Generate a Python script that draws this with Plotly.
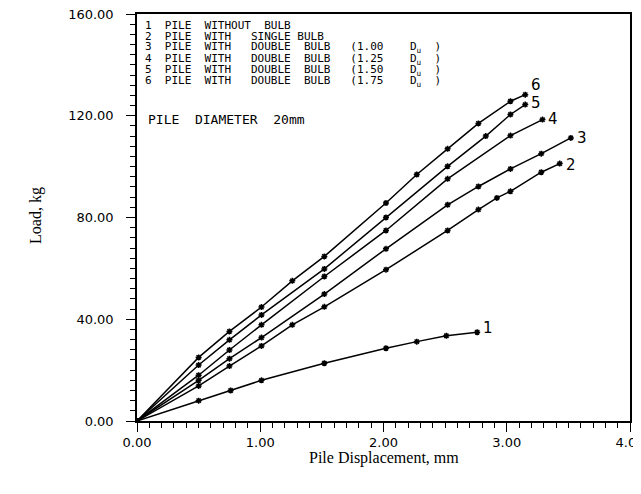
import plotly.graph_objects as go

# ---- data ----
x1 = [0, 0.50, 0.76, 1.01, 1.52, 2.02, 2.27, 2.51, 2.76]
y1 = [0, 8.0, 12.0, 16.0, 22.7, 28.6, 31.2, 33.5, 34.9]

x2 = [0, 0.50, 0.75, 1.01, 1.26, 1.52, 2.02, 2.52, 2.77, 2.92, 3.03, 3.28, 3.43]
y2 = [0, 13.8, 21.6, 29.5, 37.8, 44.9, 59.5, 74.9, 83.1, 87.7, 90.3, 97.8, 101.2]

x3 = [0, 0.50, 0.75, 1.01, 1.52, 2.02, 2.52, 2.77, 3.03, 3.28, 3.52]
y3 = [0, 16.0, 24.5, 32.8, 49.9, 67.7, 85.0, 92.2, 99.1, 105.1, 111.3]

x4 = [0, 0.50, 0.75, 1.01, 1.52, 2.02, 2.52, 3.03, 3.29]
y4 = [0, 18.0, 27.9, 37.8, 56.8, 74.9, 95.2, 112.2, 118.5]

x5 = [0, 0.50, 0.75, 1.01, 1.52, 2.02, 2.52, 2.83, 3.03, 3.15]
y5 = [0, 22.0, 31.9, 41.7, 59.8, 80.0, 100.1, 112.0, 120.5, 124.4]

x6 = [0, 0.50, 0.75, 1.01, 1.26, 1.52, 2.02, 2.27, 2.52, 2.77, 3.03, 3.15]
y6 = [0, 25.0, 35.2, 44.8, 55.1, 64.7, 85.7, 96.9, 107.0, 117.0, 125.7, 128.3]

curve_names = ["1", "2", "3", "4", "5", "6"]
label_yshift = [4, -1, 0, 1, 2, 10]

legend_lines = [
    "1  PILE  WITHOUT  BULB",
    "2  PILE  WITH   SINGLE BULB",
    "3  PILE  WITH   DOUBLE  BULB   (1.00    D<sub>u</sub>  )",
    "4  PILE  WITH   DOUBLE  BULB   (1.25    D<sub>u</sub>  )",
    "5  PILE  WITH   DOUBLE  BULB   (1.50    D<sub>u</sub>  )",
    "6  PILE  WITH   DOUBLE  BULB   (1.75    D<sub>u</sub>  )",
]
diameter_text = "PILE  DIAMETER  20mm"

x_ticks = [0, 1, 2, 3, 4]
x_ticktext = ["0.00", "1.00", "2.00", "3.00", "4.00"]
y_ticks = [0, 40, 80, 120, 160]
y_ticktext = ["0.00", "40.00", "80.00", "120.00", "160.00"]

xs = [x1, x2, x3, x4, x5, x6]
ys = [y1, y2, y3, y4, y5, y6]

fig = go.Figure()
for xv, yv, nm in zip(xs, ys, curve_names):
    fig.add_trace(go.Scatter(
        x=xv, y=yv, mode="lines+markers", name=nm,
        line=dict(color="black", width=1.5),
        marker=dict(symbol="asterisk-open", size=5, color="black",
                    line=dict(color="black", width=1.5)),
        showlegend=False, hoverinfo="skip"))

annotations = []
for xv, yv, nm, ysh in zip(xs, ys, curve_names, label_yshift):
    annotations.append(dict(
        x=xv[-1], y=yv[-1], xref="x", yref="y", text=nm, showarrow=False,
        xanchor="left", yanchor="middle", xshift=4, yshift=ysh,
        font=dict(family="DejaVu Sans", size=15, color="black")))

for i, line in enumerate(legend_lines):
    annotations.append(dict(
        x=0.05, y=155.5 - i * 4.4, xref="x", yref="y", text=line,
        showarrow=False, xanchor="left", yanchor="middle", height=11,
        font=dict(family="DejaVu Sans Mono", size=11, color="black")))

annotations.append(dict(
    x=0.07, y=118.7, xref="x", yref="y", text=diameter_text,
    showarrow=False, xanchor="left", yanchor="middle",
    font=dict(family="DejaVu Sans Mono", size=13, color="black")))

annotations.append(dict(
    x=-0.205, y=0.506, xref="paper", yref="paper", text="Load, kg",
    showarrow=False, textangle=-90, xanchor="center", yanchor="middle",
    font=dict(family="Liberation Serif", size=16, color="black")))
annotations.append(dict(
    x=0.5, y=-0.09, xref="paper", yref="paper", text="Pile Displacement, mm",
    showarrow=False, xanchor="center", yanchor="middle",
    font=dict(family="Liberation Serif", size=16, color="black")))

axis_common = dict(
    showgrid=False, zeroline=False, showline=True, linecolor="black",
    linewidth=1.5, mirror=True, ticks="outside", ticklen=9,
    tickwidth=1.2, tickcolor="black", automargin=False,
    ticklabeloverflow="allow",
    tickfont=dict(family="DejaVu Sans", size=13, color="black"),
)

fig.update_layout(
    width=633, height=486,
    margin=dict(l=129, r=11, t=6, b=73),
    paper_bgcolor="white", plot_bgcolor="white",
    annotations=annotations,
    xaxis=dict(range=[0, 4], tickvals=x_ticks, ticktext=x_ticktext,
               ticklabelstandoff=0,
               minor=dict(dtick=0.1, ticklen=5, tickwidth=1, tickcolor="black",
                          ticks="outside", showgrid=False),
               **axis_common),
    yaxis=dict(range=[0, 160], tickvals=y_ticks, ticktext=y_ticktext,
               ticklabelstandoff=10,
               minor=dict(dtick=4, ticklen=5, tickwidth=1, tickcolor="black",
                          ticks="outside", showgrid=False),
               **axis_common),
)

fig.write_html("out.html")
